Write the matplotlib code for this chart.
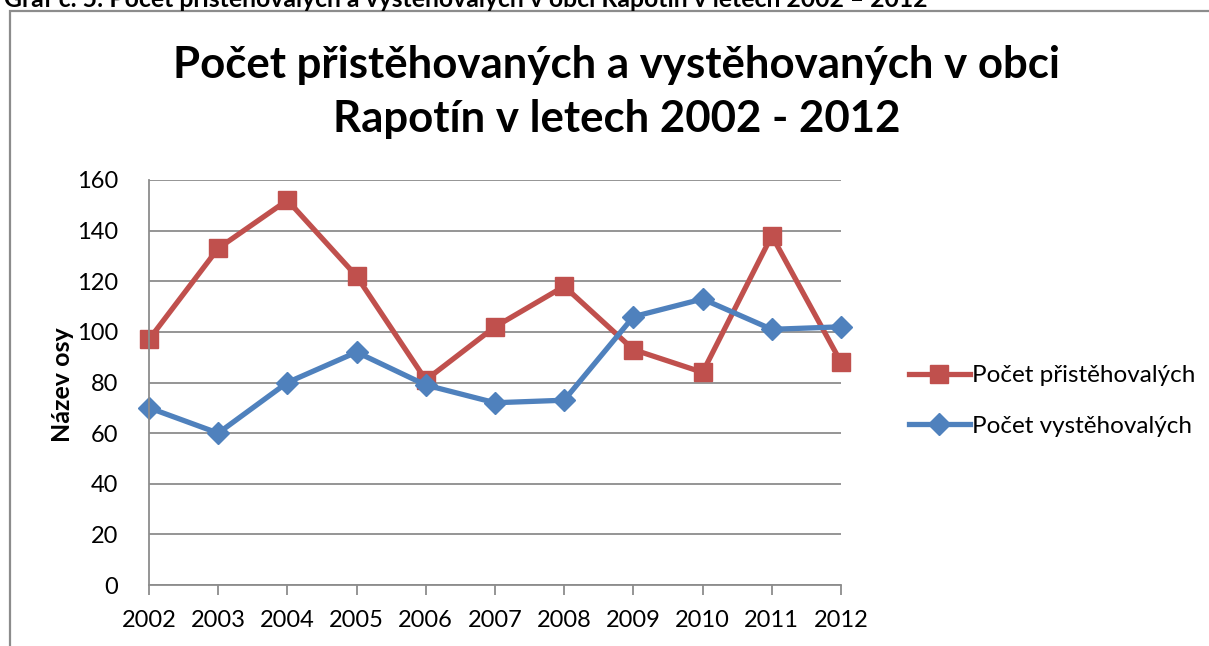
import matplotlib.pyplot as plt
from matplotlib.patches import Rectangle

# data
years = ['2002', '2003', '2004', '2005', '2006', '2007', '2008', '2009', '2010', '2011', '2012']
prist = [97, 133, 152, 122, 81, 102, 118, 93, 84, 138, 88]
vyst = [70, 60, 80, 92, 79, 72, 73, 106, 113, 101, 102]
yticks = [0, 20, 40, 60, 80, 100, 120, 140, 160]

plt.rcParams['font.family'] = ['Lato', 'DejaVu Sans']

W, H = 1209, 646
fig = plt.figure(figsize=(W / 100, H / 100), dpi=100)

# chart frame (cut off at right and bottom)
fig.patches.append(Rectangle((10 / W, -0.1), 1.2, 1 - 11 / H + 0.1, transform=fig.transFigure,
                             fill=False, edgecolor='#8c8c8c', linewidth=1.6))

# caption above the chart, mostly cut off by the page edge
fig.text(4 / W, 1 - 7 / H, 'Graf č. 5: Počet přistěhovalých a vystěhovalých v obci Rapotín v letech 2002 – 2012',
         ha='left', va='baseline', fontsize=17.8, fontweight='bold')

ax = fig.add_axes([149 / W, 1 - 585 / H, (841 - 149) / W, (585 - 180) / H])
x = list(range(len(years)))
ax.plot(x, prist, color='#C0504D', linewidth=3.8, marker='s', markersize=13,
        label='Počet přistěhovalých', clip_on=False)
ax.plot(x, vyst, color='#4F81BD', linewidth=3.8, marker='D', markersize=11,
        label='Počet vystěhovalých', clip_on=False)

ax.set_xlim(0, len(years) - 1)
ax.set_ylim(0, 160)
ax.set_xticks(x)
ax.set_xticklabels(years)
ax.set_yticks(yticks)
ax.grid(axis='y', color='#8c8c8c', linewidth=1.3)
ax.set_axisbelow(True)
for s in ['top', 'right']:
    ax.spines[s].set_visible(False)
for s in ['left', 'bottom']:
    ax.spines[s].set_color('#8c8c8c')
    ax.spines[s].set_linewidth(1.3)
ax.tick_params(axis='x', length=7, width=1.3, color='#8c8c8c', labelsize=17, pad=11)
ax.tick_params(axis='y', length=0, labelsize=17, pad=22)

ax.set_ylabel('Název osy', fontsize=18, fontweight='bold')
ax.yaxis.set_label_coords(74 / W, 1 - 385 / H, transform=fig.transFigure)

fig.text(0.51, 1 - 92 / H, 'Počet přistěhovaných a vystěhovaných v obci\nRapotín v letech 2002 - 2012',
         ha='center', va='center', fontsize=31.5, fontweight='bold', linespacing=1.4)

ax.legend(loc='center left', bbox_to_anchor=(887 / W, 1 - 401 / H), bbox_transform=fig.transFigure,
          frameon=False, fontsize=17.5, handlelength=2.5, handletextpad=0.1, labelspacing=1.2)

fig.savefig('out.png', dpi=100)
